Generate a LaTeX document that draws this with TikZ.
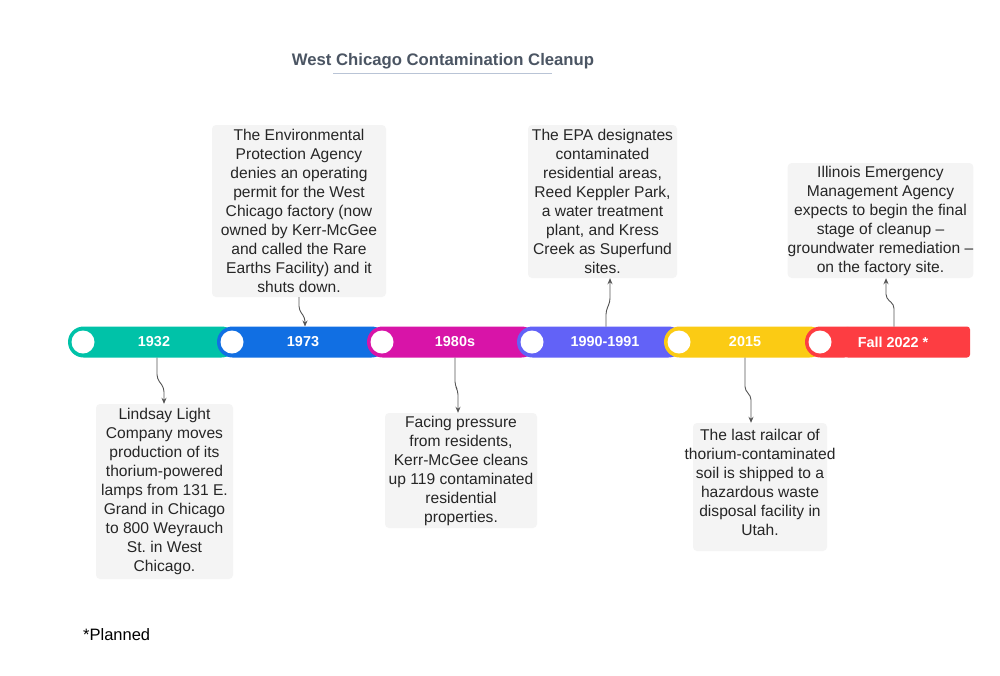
\documentclass[tikz,border=0pt]{standalone}
\usepackage{fontspec}
\setmainfont{Liberation Sans}
\usetikzlibrary{arrows.meta,calc}
\definecolor{tealc}{HTML}{00C2A8}
\definecolor{bluec}{HTML}{116FE3}
\definecolor{magc}{HTML}{D814A8}
\definecolor{purc}{HTML}{6262F7}
\definecolor{yelc}{HTML}{FBCB14}
\definecolor{redc}{HTML}{FD3D42}
\definecolor{boxc}{HTML}{F4F4F4}
\definecolor{textc}{HTML}{262626}
\definecolor{titlec}{HTML}{4B5563}
\definecolor{ulc}{HTML}{B9C4D6}
\definecolor{connc}{HTML}{555555}
\frenchspacing
\begin{document}
\begin{tikzpicture}[x=1pt,y=-1pt,
  evbox/.style={fill=boxc, rounded corners=4pt, inner sep=0pt, align=center,
    text=textc, font=\fontsize{15.6}{19}\selectfont},
  barlabel/.style={text=white, font=\bfseries\fontsize{14.4}{17}\selectfont, inner sep=0pt},
  conn/.style={draw=connc, line width=0.9pt, rounded corners=4pt,
    -{Stealth[length=6pt,width=5pt]}},
  dot/.style={fill=white}]
\useasboundingbox (0,0) rectangle (1000,675);
\fill[white] (0,0) rectangle (1000,675);

% title
\node[font=\bfseries\fontsize{16.7}{20}\selectfont, text=titlec] (title) at (443,61) {West Chicago Contamination Cleanup};
\draw[ulc, line width=1.2pt] (333,73.5) -- (552,73.5);

% bar segments
\fill[tealc, rounded corners=15.5pt] (68,326.5) rectangle (237,357.5);
\fill[bluec, rounded corners=15.5pt] (217,326.5) rectangle (387,357.5);
\fill[magc, rounded corners=15.5pt] (367,326.5) rectangle (537,357.5);
\fill[purc, rounded corners=15.5pt] (517,326.5) rectangle (684,357.5);
\fill[yelc, rounded corners=15.5pt] (664,326.5) rectangle (825,357.5);
\fill[redc, rounded corners=15.5pt] (860,357.5) -- (805,357.5) -- (805,326.5) -- (860,326.5) -- cycle;
\fill[redc, rounded corners=3pt] (845,326.5) rectangle (970,357.5);

% white dots
\fill[dot] (83,342) circle (11.5);
\fill[dot] (232,342) circle (11.5);
\fill[dot] (382,342) circle (11.5);
\fill[dot] (532,342) circle (11.5);
\fill[dot] (679,342) circle (11.5);
\fill[dot] (820,342) circle (11.5);

% bar labels
\node[barlabel] (y1) at (154,342) {1932};
\node[barlabel] (y2) at (303,342) {1973};
\node[barlabel] (y3) at (455,342) {1980s};
\node[barlabel] (y4) at (605,342) {1990-1991};
\node[barlabel] (y5) at (745,342) {2015};
\node[barlabel] (y6) at (893,342) {Fall 2022 *};

% connector anchor points on bar
\coordinate (c1) at (157,357.5);
\coordinate (c2) at (305,326.5);
\coordinate (c3) at (455,357.5);
\coordinate (c4) at (606,326.5);
\coordinate (c5) at (745,357.5);
\coordinate (c6) at (894,326.5);

% event boxes
\node[evbox, minimum width=137pt, minimum height=175pt] (b1) at (164.5,491.5)
 {Lindsay Light\\Company moves\\production of its\\thorium-powered\\lamps from 131 E.\\Grand in Chicago\\to 800 Weyrauch\\St. in West\\Chicago.};
\node[evbox, minimum width=174pt, minimum height=172pt] (b2) at (299,211)
 {The Environmental\\Protection Agency\\denies an operating\\permit for the West\\Chicago factory (now\\owned by Kerr-McGee\\and called the Rare\\Earths Facility) and it\\shuts down.};
\node[evbox, minimum width=152pt, minimum height=115pt] (b3) at (461,470.5)
 {Facing pressure\\from residents,\\Kerr-McGee cleans\\up 119 contaminated\\residential\\properties.};
\node[evbox, minimum width=149pt, minimum height=153pt] (b4) at (602.5,201.5)
 {The EPA designates\\contaminated\\residential areas,\\Reed Keppler Park,\\a water treatment\\plant, and Kress\\Creek as Superfund\\sites.};
\node[evbox, minimum width=134pt, minimum height=128pt, text depth=10pt] (b5) at (760,487)
 {The last railcar of\\\makebox[120pt][c]{thorium-contaminated}\\soil is shipped to a\\hazardous waste\\disposal facility in\\Utah.};
\node[evbox, minimum width=185pt, minimum height=115pt] (b6) at (880.5,220.5)
 {Illinois Emergency\\Management Agency\\expects to begin the final\\stage of cleanup --\\groundwater remediation --\\on the factory site.};

% connectors
\draw[conn] (c1) -- ++(0,21) -- ($(b1.north)+(-0.5,-16)$) -- ($(b1.north)+(-0.5,0)$);
\draw[conn] (b2.south) -- ++(0,13) -- ($(c2)+(0,-9)$) -- (c2);
\draw[conn] (c3) -- ++(0,28) -- ($(b3.north)+(-3,-22)$) -- ($(b3.north)+(-3,0)$);
\draw[conn] (c4) -- ++(0,-16) -- ($(b4.south)+(7.5,24)$) -- ($(b4.south)+(7.5,0)$);
\draw[conn] (c5) -- ++(0,33) -- ($(b5.north)+(-9,-27)$) -- ($(b5.north)+(-9,0)$);
\draw[conn] (c6) -- ++(0,-22) -- ($(b6.south)+(5.5,20)$) -- ($(b6.south)+(5.5,0)$);

% footnote
\node[anchor=west, inner sep=0pt, text=black, font=\fontsize{16.5}{20}\selectfont] (plan) at (83,635) {*Planned};
\end{tikzpicture}
\end{document}
